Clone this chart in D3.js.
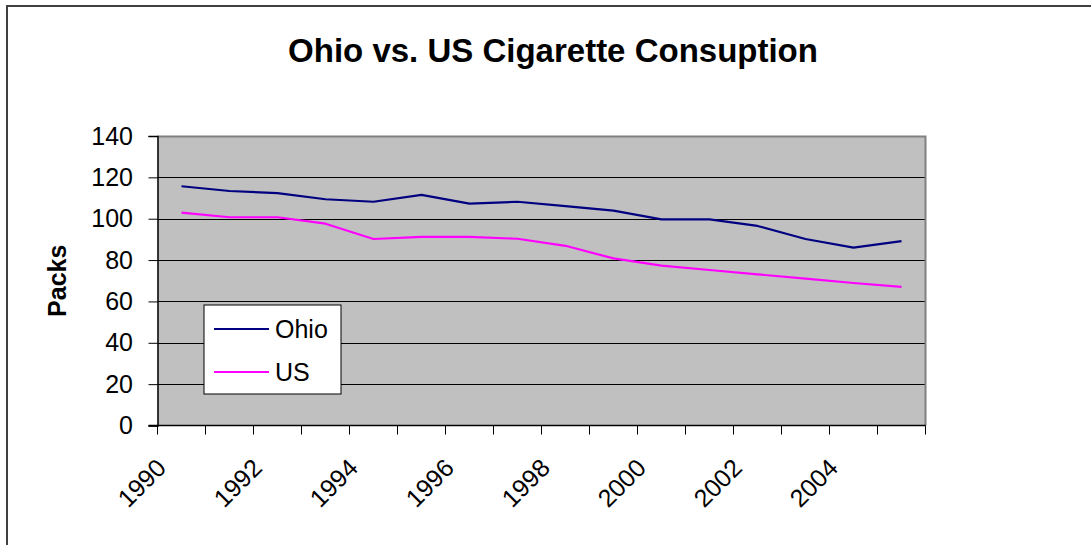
<!DOCTYPE html>
<html>
<head>
<meta charset="utf-8">
<script src="https://cdn.jsdelivr.net/npm/d3@7"></script>
<style>
  html, body { margin: 0; padding: 0; background: #fff; }
  svg { display: block; }
</style>
</head>
<body>
<script>
// Annual cigarette consumption (packs per capita), 1990–2005
const years = ["1990","1991","1992","1993","1994","1995","1996","1997",
               "1998","1999","2000","2001","2002","2003","2004","2005"];
const ohio = [115.7, 113.4, 112.4, 109.4, 108.2, 111.5, 107.3, 108.2,
              106.1, 103.9, 99.7, 99.7, 96.5, 90.2, 86.0, 89.2];
const us   = [102.9, 100.7, 100.7, 97.6, 90.2, 91.2, 91.2, 90.3,
              86.9, 80.8, 77.3, 75.2, 73.1, 71.0, 68.9, 67.0];
const yTicks = [0, 20, 40, 60, 80, 100, 120, 140];
const seriesNames = ["Ohio", "US"];
const seriesColors = ["#000080", "#FF00FF"];

const W = 1091, H = 545;
const plot = { left: 157.5, right: 925.5, top: 136, bottom: 425.5 };
const FONT = "Liberation Sans, Arial, sans-serif";

const svg = d3.select("body").append("svg")
  .attr("width", W).attr("height", H);

// chart frame
svg.append("rect")
  .attr("x", 7).attr("y", 6).attr("width", W + 20).attr("height", H + 20)
  .attr("fill", "#fff").attr("stroke", "#404040").attr("stroke-width", 2);

// title
svg.append("text")
  .attr("x", 553).attr("y", 62)
  .attr("text-anchor", "middle")
  .attr("font-family", FONT)
  .attr("font-weight", "bold").attr("font-size", 33)
  .text("Ohio vs. US Cigarette Consuption");

const x = d3.scaleBand().domain(years).range([plot.left, plot.right]).padding(0);
const y = d3.scaleLinear().domain([0, 140]).range([plot.bottom, plot.top]);

// plot background
svg.append("rect")
  .attr("x", plot.left).attr("y", plot.top)
  .attr("width", plot.right - plot.left).attr("height", plot.bottom - plot.top)
  .attr("fill", "#C0C0C0");

// horizontal gridlines
svg.append("g").selectAll("line").data(yTicks.filter(d => d > 0 && d < 140)).join("line")
  .attr("x1", plot.left).attr("x2", plot.right)
  .attr("y1", d => Math.round(y(d)) + 0.5).attr("y2", d => Math.round(y(d)) + 0.5)
  .attr("stroke", "#000").attr("stroke-width", 1);

// top and right plot border
svg.append("path")
  .attr("d", `M${plot.left},${plot.top + 0.5}H${plot.right}V${plot.bottom}`)
  .attr("fill", "none").attr("stroke", "#808080").attr("stroke-width", 2);

// y axis
const yAxis = svg.append("g")
  .attr("transform", `translate(${plot.left},0)`)
  .call(d3.axisLeft(y).tickValues(yTicks).tickSize(9).tickPadding(15.5));
yAxis.select(".domain").attr("stroke", "#000").attr("stroke-width", 1.5);
yAxis.selectAll(".tick line").attr("stroke", "#000");
yAxis.selectAll("text")
  .attr("font-family", FONT)
  .attr("font-size", 25).attr("fill", "#000");

// x axis: ticks at category boundaries
const boundaries = years.map(d => x(d)).concat([plot.right]);
const xAxisG = svg.append("g");
xAxisG.append("line")
  .attr("x1", plot.left - 9).attr("x2", plot.right)
  .attr("y1", plot.bottom).attr("y2", plot.bottom)
  .attr("stroke", "#000").attr("stroke-width", 1.5);
xAxisG.selectAll("line.tk").data(boundaries).join("line")
  .attr("class", "tk")
  .attr("x1", d => d).attr("x2", d => d)
  .attr("y1", plot.bottom).attr("y2", plot.bottom + 9)
  .attr("stroke", "#000").attr("stroke-width", 1);
xAxisG.selectAll("text").data(years.filter((d, i) => i % 2 === 0)).join("text")
  .attr("transform", d => `translate(${x(d) + x.bandwidth() / 2 - 14},${plot.bottom + 44}) rotate(-45)`)
  .attr("text-anchor", "end")
  .attr("font-family", FONT)
  .attr("font-size", 25)
  .text(d => d);

// y axis title
svg.append("text")
  .attr("transform", `translate(66,${(plot.top + plot.bottom) / 2}) rotate(-90)`)
  .attr("text-anchor", "middle")
  .attr("font-family", FONT)
  .attr("font-weight", "bold").attr("font-size", 25)
  .text("Packs");

// series lines
const line = d3.line()
  .x((d, i) => x(years[i]) + x.bandwidth() / 2)
  .y(d => y(d));
[ohio, us].forEach((vals, k) => {
  svg.append("path")
    .attr("d", line(vals))
    .attr("fill", "none")
    .attr("stroke", seriesColors[k]).attr("stroke-width", 2.2)
    .attr("stroke-linejoin", "round");
});

// legend
const lg = svg.append("g").attr("transform", "translate(204,305)");
lg.append("rect")
  .attr("x", 0).attr("y", 0).attr("width", 137).attr("height", 89)
  .attr("fill", "#fff").attr("stroke", "#000").attr("stroke-width", 1);
seriesNames.forEach((name, k) => {
  const ly = 24 + k * 43;
  lg.append("line")
    .attr("x1", 10).attr("x2", 65).attr("y1", ly).attr("y2", ly)
    .attr("stroke", seriesColors[k]).attr("stroke-width", 2.2);
  lg.append("text")
    .attr("x", 71).attr("y", ly + 9)
    .attr("font-family", FONT)
    .attr("font-size", 25)
    .text(name);
});
</script>
</body>
</html>
